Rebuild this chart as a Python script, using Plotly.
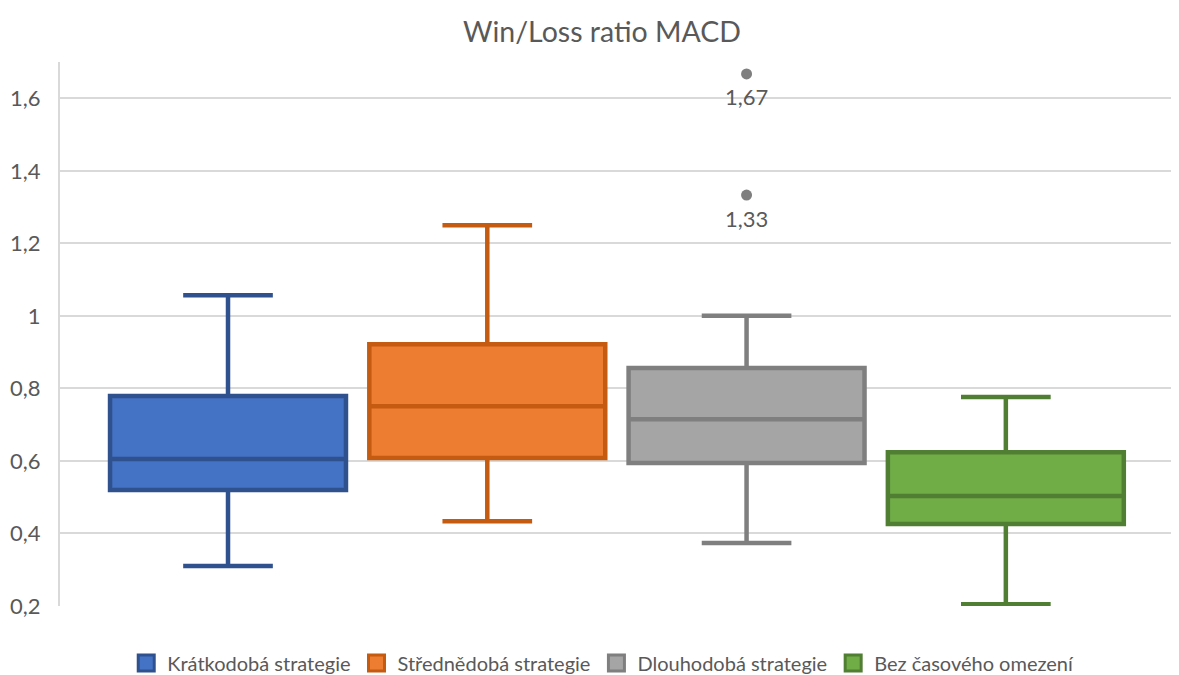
import plotly.graph_objects as go

# Statistiky boxplotu
names = ["Krátkodobá strategie", "Střednědobá strategie", "Dlouhodobá strategie", "Bez časového omezení"]
lower = [0.31, 0.434, 0.374, 0.205]
q1 = [0.52, 0.608, 0.594, 0.426]
median = [0.605, 0.751, 0.715, 0.503]
q3 = [0.779, 0.922, 0.856, 0.624]
upper = [1.057, 1.25, 1.0, 0.776]
outlier_y = [1.333, 1.667]
outlier_labels = ["1,33", "1,67"]

fills = ["#4472C4", "#ED7D31", "#A5A5A5", "#70AD47"]
edges = ["#2F528F", "#C55A11", "#7F7F7F", "#507E32"]

fig = go.Figure()
for i, name in enumerate(names):
    fig.add_trace(go.Box(
        x=[i], q1=[q1[i]], median=[median[i]], q3=[q3[i]],
        lowerfence=[lower[i]], upperfence=[upper[i]],
        name=name, width=0.91, whiskerwidth=0.38,
        fillcolor=fills[i], line=dict(color=edges[i], width=4.5),
        boxpoints=False, showlegend=False,
    ))

# legenda se čtverečky jako v Excelu
for i, name in enumerate(names):
    fig.add_trace(go.Scatter(
        x=[None], y=[None], mode="markers", name=name,
        marker=dict(symbol="square", size=18, color=fills[i],
                    line=dict(color=edges[i], width=3)),
    ))

# Odlehlé hodnoty u dlouhodobé strategie
fig.add_trace(go.Scatter(
    x=[2] * len(outlier_y), y=outlier_y, mode="markers",
    marker=dict(color="#7F7F7F", size=11),
    showlegend=False, hoverinfo="skip",
))
for val, lab in zip(outlier_y, outlier_labels):
    fig.add_annotation(x=2, y=val, text=lab, showarrow=False, yshift=-23,
                       font=dict(size=22, color="#595959"))

# stránka má okraj 8 px, proto je graf o něco menší
W, H = 1171, 667
fig.update_layout(
    width=W, height=H,
    title=dict(text="Win/Loss ratio MACD", x=594 / W, xanchor="center", y=1 - 24 / H,
               yanchor="middle", font=dict(size=28.5, color="#595959")),
    font=dict(family="Lato, Open Sans, sans-serif", color="#595959", size=20),
    separators=", ",
    paper_bgcolor="white", plot_bgcolor="white",
    margin=dict(l=52, r=1, t=54, b=69, autoexpand=False),
    showlegend=True,
    legend=dict(orientation="h", x=0.485, xanchor="center", y=-57 / 544, yanchor="middle",
                font=dict(size=20, color="#595959"), itemwidth=32),
    xaxis=dict(range=[-0.648, 3.664], showticklabels=False, showgrid=False,
               zeroline=False, showline=False),
    yaxis=dict(range=[0.2, 1.7], tickvals=[0.2, 0.4, 0.6, 0.8, 1, 1.2, 1.4, 1.6],
               ticktext=["0,2", "0,4", "0,6", "0,8", "1", "1,2", "1,4", "1,6"],
               showgrid=True, gridcolor="#D9D9D9", gridwidth=1.5, automargin=False,
               zeroline=False, showline=True, linecolor="#D9D9D9", linewidth=2,
               ticks="", ticklabelstandoff=13, tickfont=dict(size=22, color="#595959")),
)

fig.write_html("out.html")
